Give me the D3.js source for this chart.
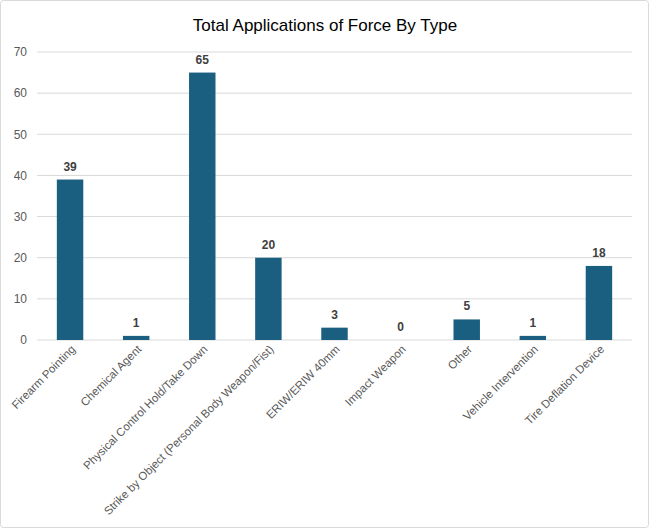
<!DOCTYPE html>
<html>
<head>
<meta charset="utf-8">
<script src="https://cdn.jsdelivr.net/npm/d3@7"></script>
<style>
  body { margin: 0; background: #fff; }
  text { font-family: "Liberation Sans", Arial, sans-serif; }
</style>
</head>
<body>
<svg id="chart" width="650" height="529"></svg>
<script>
const categories = [
  "Firearm Pointing",
  "Chemical Agent",
  "Physical Control Hold/Take Down",
  "Strike by Object (Personal Body Weapon/Fist)",
  "ERIW/ERIW 40mm",
  "Impact Weapon",
  "Other",
  "Vehicle Intervention",
  "Tire Deflation Device"
];
const counts = [39, 1, 65, 20, 3, 0, 5, 1, 18];
const yTicks = [0, 10, 20, 30, 40, 50, 60, 70];

const width = 650, height = 529;
const margin = {top: 52, right: 18, bottom: 189, left: 37};
const svg = d3.select("#chart");

svg.append("rect")
  .attr("x", 0.5).attr("y", 0.5)
  .attr("width", width - 2).attr("height", height - 2)
  .attr("rx", 3)
  .attr("fill", "#fff").attr("stroke", "#d9d9d9");

svg.append("text")
  .attr("x", 325).attr("y", 31)
  .attr("text-anchor", "middle")
  .attr("font-size", 17)
  .attr("fill", "#000")
  .text("Total Applications of Force By Type");

const x = d3.scaleBand().domain(categories)
  .range([margin.left, width - margin.right])
  .paddingInner(0.6).paddingOuter(0.3);
const y = d3.scaleLinear().domain([0, 70]).range([height - margin.bottom, margin.top]);

// gridlines
svg.append("g").selectAll("line").data(yTicks).join("line")
  .attr("x1", margin.left).attr("x2", width - margin.right)
  .attr("y1", d => y(d)).attr("y2", d => y(d))
  .attr("stroke", "#d9d9d9").attr("stroke-width", 1);

const yAxis = d3.axisLeft(y).tickValues(yTicks).tickSize(0).tickPadding(10);
const yg = svg.append("g").attr("transform", `translate(${margin.left},0)`).call(yAxis);
yg.select(".domain").remove();
yg.selectAll("text").attr("font-size", 12).attr("fill", "#595959")
  .attr("font-family", "Liberation Sans, Arial, sans-serif");

svg.append("g").selectAll("rect").data(categories).join("rect")
  .attr("x", d => x(d))
  .attr("y", (d, i) => y(counts[i]))
  .attr("width", x.bandwidth())
  .attr("height", (d, i) => y(0) - y(counts[i]))
  .attr("fill", "#1a5e80");

svg.append("g").selectAll("text").data(categories).join("text")
  .attr("x", d => x(d) + x.bandwidth() / 2)
  .attr("y", (d, i) => y(counts[i]) - 9)
  .attr("text-anchor", "middle")
  .attr("font-size", 12).attr("font-weight", "bold")
  .attr("fill", "#404040")
  .text((d, i) => counts[i]);

const xAxis = d3.axisBottom(x).tickSize(0).tickPadding(0);
const xg = svg.append("g").attr("transform", `translate(0,${y(0)})`).call(xAxis);
xg.select(".domain").remove();
xg.selectAll("text")
  .attr("font-size", 11.5).attr("fill", "#595959")
  .attr("font-family", "Liberation Sans, Arial, sans-serif")
  .attr("text-anchor", "end")
  .attr("dy", null).attr("y", 0)
  .attr("transform", "translate(6,10) rotate(-45)");
</script>
</body>
</html>
